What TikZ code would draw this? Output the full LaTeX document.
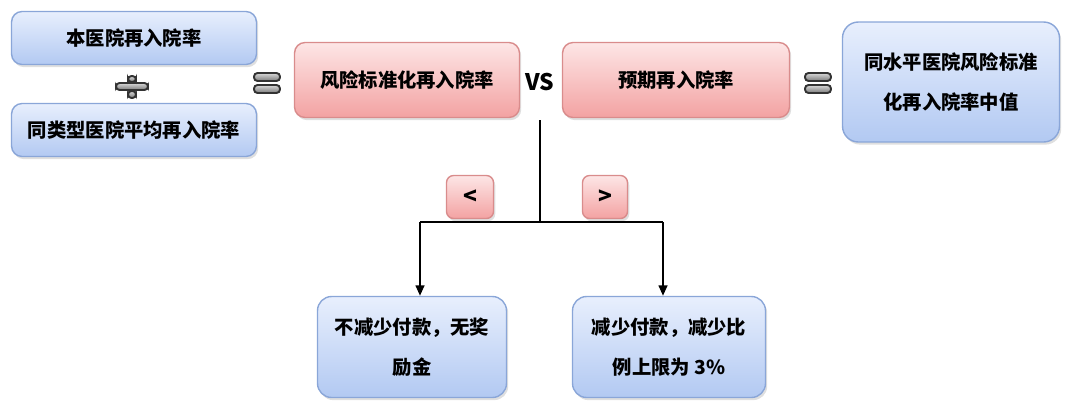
\documentclass[tikz,border=0pt]{standalone}
\usepackage{fontspec}
\setmainfont{Noto Sans CJK SC}
\usetikzlibrary{shadows,arrows.meta}
\definecolor{bborder}{HTML}{8AA6D8}
\definecolor{btop}{HTML}{E8EFFD}
\definecolor{bbot}{HTML}{B2C9F2}
\definecolor{rborder}{HTML}{D98C8C}
\definecolor{rtop}{HTML}{FDE6E6}
\definecolor{rbot}{HTML}{F3A2A2}
\definecolor{gtop}{HTML}{D8D8D8}
\definecolor{gbot}{HTML}{7A7A7A}
\tikzset{
  boxbase/.style={rounded corners=6pt, line width=0.8pt, align=center,
    font=\fontsize{11}{22.5}\selectfont\bfseries,
    drop shadow={opacity=0.25, shadow xshift=1pt, shadow yshift=-1.5pt}},
  bluebox/.style={boxbase, draw=bborder, top color=btop, bottom color=bbot},
  redbox/.style={boxbase, draw=rborder, top color=rtop, bottom color=rbot},
  signbar/.style={draw=black!80, line width=1.1pt, top color=gtop, bottom color=gbot, rounded corners=2pt},
  cmpbox/.style={redbox, rounded corners=4pt, minimum height=0.86cm, font=\fontsize{13}{14}\selectfont\bfseries},
  conn/.style={draw=black, line width=1.2pt},
  arr/.style={conn, -{Triangle[length=6pt,width=5pt]}}
}
\begin{document}
\begin{tikzpicture}[x=0.02cm,y=-0.02cm]
\useasboundingbox (0,0) rectangle (1072,403);
% left column
\node[bluebox, minimum width=4.9cm, minimum height=1.06cm] (A) at (134,38) {本医院再入院率};
\node[bluebox, minimum width=4.9cm, minimum height=1.06cm] (B) at (134,130) {同类型医院平均再入院率};
% division sign
\path[signbar] (116,83) rectangle (148,90);
\path[signbar] (128,76) rectangle (136,82);
\path[signbar] (128,91) rectangle (136,98);
% equals sign left
\path[signbar] (254,73) rectangle (280,81);
\path[signbar] (254,85) rectangle (280,93);
% red boxes
\node[redbox, minimum width=4.5cm, minimum height=1.5cm] (C) at (407,80) {风险标准化再入院率};
\node[font=\fontsize{13}{14}\selectfont\bfseries] (vs) at (540,82) {VS};
\node[redbox, minimum width=4.54cm, minimum height=1.5cm] (D) at (676,80) {预期再入院率};
% equals sign right
\path[signbar] (805,73) rectangle (831,81);
\path[signbar] (805,85) rectangle (831,93);
% right blue box
\node[bluebox, rounded corners=9pt, minimum width=4.34cm, minimum height=2.4cm] (E) at (951,82) {同水平医院风险标准\\化再入院率中值};
% comparison boxes
\node[cmpbox, minimum width=0.94cm] (lt) at (470,197) {<};
\node[cmpbox, minimum width=0.90cm] (gt) at (605,197) {>};
% result boxes
\node[bluebox, rounded corners=8pt, minimum width=3.78cm, minimum height=2.02cm] (F) at (412,347) {不减少付款，无奖\\励金};
\node[bluebox, rounded corners=8pt, minimum width=3.86cm, minimum height=2.02cm] (G) at (669,347) {减少付款，减少比\\例上限为 3\%};
% connectors
\coordinate (top) at (540,120);
\coordinate (split) at (540,222);
\coordinate (lsplit) at (420,222);
\coordinate (rsplit) at (663,222);
\draw[conn] (top) -- (split);
\draw[conn] (lsplit) -- (rsplit);
\draw[arr] (lsplit) -- (lsplit |- F.north);
\draw[arr] (rsplit) -- (rsplit |- G.north);
\end{tikzpicture}
\end{document}
